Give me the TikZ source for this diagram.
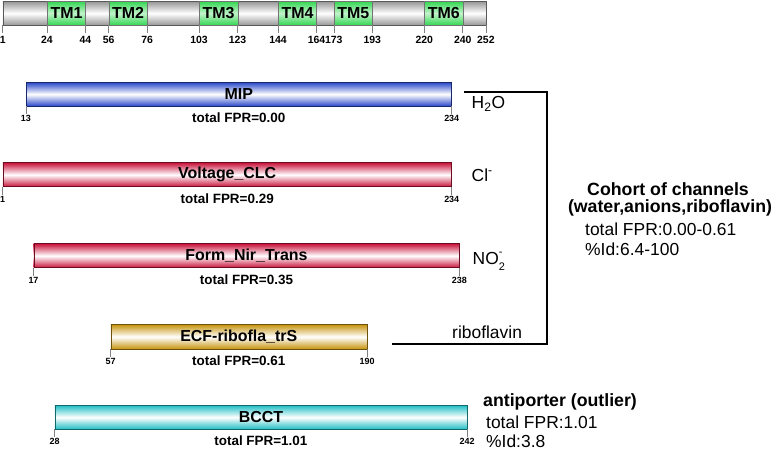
\documentclass[tikz,border=0pt]{standalone}
\usepackage{fontspec}
\setmainfont{Liberation Sans}
\usetikzlibrary{calc}
\definecolor{mipblue}{RGB}{40,70,200}
\definecolor{clcred}{RGB}{200,20,60}
\definecolor{ecfgold}{RGB}{200,150,20}
\definecolor{bcctcyan}{RGB}{30,190,195}
\definecolor{tmgreen}{RGB}{50,215,80}
\definecolor{seqgray}{RGB}{150,150,150}
\tikzset{
  barbox/.style={draw=#1!55!black, line width=0.5pt, top color=#1, bottom color=#1, middle color=white,
    minimum height=24bp, inner sep=0pt, anchor=north west, font=\fontsize{16}{18}\selectfont\bfseries},
  seqbox/.style={draw=black!65, line width=0.6pt, top color=seqgray, bottom color=seqgray, middle color=white,
    minimum height=24bp, inner sep=0pt, anchor=north west},
  tmbox/.style={draw=black!55, line width=0.5pt, top color=tmgreen, bottom color=tmgreen, middle color=tmgreen!30,
    minimum height=24bp, inner sep=0pt, anchor=north west, font=\fontsize{16}{18}\selectfont\bfseries},
  tickline/.style={draw=black!50, line width=0.6pt},
  ticklab/.style={font=\fontsize{9}{10}\selectfont\bfseries, inner sep=0pt, anchor=north},
  toplab/.style={font=\fontsize{10.5}{12}\selectfont\bfseries, inner sep=0pt, anchor=north},
  fprlab/.style={font=\fontsize{13.5}{15}\selectfont\bfseries, inner sep=0pt},
  sidelab/.style={font=\fontsize{17.5}{20}\selectfont, inner sep=0pt, anchor=west},
  boldlab/.style={font=\fontsize{17.8}{20}\selectfont\bfseries, inner sep=0pt},
  bracket/.style={draw=black, line width=1.2pt}
}
\newcommand\protbar[7]{%
  \node[barbox=#5, minimum width={(#3-#2)*1.925bp}] (#1) at ({2.7+(#2-1)*1.925},#4) {#6};
  \draw[tickline] (#1.south west) -- ++(0,8) coordinate (#1-ts);
  \draw[tickline] (#1.south east) -- ++(0,8) coordinate (#1-te);
  \node[ticklab] (#1-ls) at ($(#1-ts)+(0,1)$) {#2};
  \node[ticklab] (#1-le) at ($(#1-te)+(0,1)$) {#3};
  \node[fprlab] (#1-fpr) at ($(#1.south)+(0,11.5)$) {total FPR=#7};
}
\begin{document}
\begin{tikzpicture}[x=1bp,y=-1bp]
\useasboundingbox[fill=white] (0,0) rectangle (778,451);
% sequence bar
\node[seqbox, minimum width={251*1.925bp}] (seq) at (2.7,1) {};
\foreach \n/\a/\b in {1/24/44,2/56/76,3/103/123,4/144/164,5/173/193,6/220/240}{
  \node[tmbox, minimum width={(\b-\a)*1.925bp}] (tm\n) at ({2.7+(\a-1)*1.925},1) {TM\n};
}
\foreach \r in {1,24,44,56,76,103,123,144,164,173,193,220,240,252}{
  \coordinate (t\r) at ({2.7+(\r-1)*1.925},25);
  \draw[tickline] (t\r) -- ++(0,8) coordinate (te\r);
  \node[toplab] (tl\r) at ($(te\r)+(0,3)$) {\r};
}
% protein bars
\protbar{mip}{13}{234}{82}{mipblue}{MIP}{0.00}
\protbar{clc}{1}{234}{162.5}{clcred}{Voltage\_CLC}{0.29}
\protbar{fnt}{17}{238}{243.5}{clcred}{Form\_Nir\_Trans}{0.35}
\protbar{ecf}{57}{190}{324.5}{ecfgold}{ECF-ribofla\_trS}{0.61}
\protbar{bcct}{28}{242}{405}{bcctcyan}{BCCT}{1.01}
% substrate labels
\node[sidelab] (h2o) at (471.5,104) {H\textsubscript{2}O};
\node[sidelab] (cl) at (471.5,175) {Cl\textsuperscript{-}};
\node[sidelab] (no2) at (472.5,261) {NO\rlap{\raisebox{0.55em}{\fontsize{11}{11}\selectfont -}}\raisebox{-0.3em}{\fontsize{11}{11}\selectfont 2}};
\node[sidelab] (ribo) at (452,332) {riboflavin};
% bracket
\coordinate (br1) at (464,92);
\coordinate (br2) at (547,92);
\coordinate (br3) at (547,344);
\coordinate (br4) at (392,344);
\draw[bracket] (br1) -- (br2) -- (br3) -- (br4);
% cohort text
\node[boldlab] (coh1) at (668,189) {Cohort of channels};
\node[boldlab] (coh2) at (670,208) {(water,anions,riboflavin)};
\node[sidelab] (coh3) at (585,229) {total FPR:0.00-0.61};
\node[sidelab] (coh4) at (585,249) {\%Id:6.4-100};
% antiporter text
\node[boldlab, anchor=west] (ant1) at (483,402) {antiporter (outlier)};
\node[sidelab] (ant2) at (486,422) {total FPR:1.01};
\node[sidelab] (ant3) at (486,441) {\%Id:3.8};
\end{tikzpicture}
\end{document}
